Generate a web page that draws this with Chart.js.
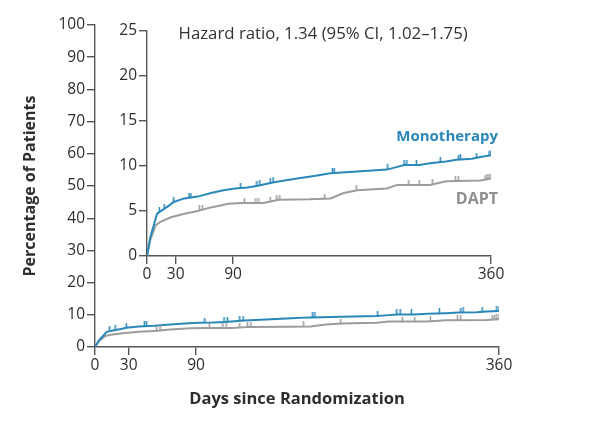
<!DOCTYPE html>
<html>
<head>
<meta charset="utf-8">
<script src="https://cdn.jsdelivr.net/npm/chart.js@4.4.1/dist/chart.umd.min.js"></script>
<style>
  html, body { margin: 0; padding: 0; background: #fff; }
  #wrap { position: relative; width: 600px; height: 421px; }
  #wrap canvas { position: absolute; left: 0; top: 0; }
</style>
</head>
<body>
<div id="wrap">
  <canvas id="mainChart" width="600" height="421"></canvas>
  <canvas id="insetChart" width="600" height="421"></canvas>
</div>
<script>
// cumulative incidence (%)
var daysMono = [0, 2, 3.5, 6.5, 10.5, 16, 23, 28, 39, 53, 67, 80, 92, 105, 116, 133, 157, 175, 192, 220, 251, 262, 269, 285, 296, 313, 324, 340, 349, 360];
var mono     = [0, 1.2, 2.1, 3.2, 4.7, 5.1, 5.6, 6.0, 6.4, 6.6, 7.0, 7.3, 7.5, 7.6, 7.8, 8.2, 8.6, 8.9, 9.2, 9.4, 9.6, 9.9, 10.1, 10.1, 10.3, 10.5, 10.7, 10.8, 11.0, 11.2];

var daysDapt = [0, 2, 3.5, 9, 14, 25, 39, 53, 67, 85, 99, 122, 138, 170, 192, 206, 220, 251, 262, 296, 313, 349, 360];
var dapt     = [0, 1.0, 1.8, 3.4, 3.8, 4.3, 4.7, 5.0, 5.4, 5.8, 5.9, 5.9, 6.25, 6.3, 6.4, 7.0, 7.3, 7.5, 7.9, 7.9, 8.3, 8.4, 8.6];

// censoring marks (days)
var censorMono = [13, 18, 28, 44, 46, 98, 115, 118, 129, 132, 194, 196, 252, 269, 272, 282, 307, 326, 328, 345, 358, 360];
var censorDapt = [55, 58, 102, 114, 117, 129, 136, 139, 186, 219, 274, 285, 299, 323, 326, 354, 356, 358, 360];

var xTicks = [0, 30, 90, 360];
var mainYTicks = [0, 10, 20, 30, 40, 50, 60, 70, 80, 90, 100];
var insetYTicks = [0, 5, 10, 15, 20, 25];

var blue = '#2a88b8';
var grey = '#9c9c9c';
var axisColor = '#555';
var textColor = '#2e2e2e';
var fontFamily = '"Open Sans", "Noto Sans", sans-serif';

function toPoints(xs, ys) {
    return xs.map(function (x, i) { return { x: x, y: ys[i] }; });
}

function valueAt(xs, ys, d) {
    for (var i = 1; i < xs.length; i++) {
        if (d <= xs[i]) {
            var t = (d - xs[i - 1]) / (xs[i] - xs[i - 1]);
            return ys[i - 1] + t * (ys[i] - ys[i - 1]);
        }
    }
    return ys[ys.length - 1];
}

// small upward tick used as censor mark
function tickImage(color) {
    var c = document.createElement('canvas');
    c.width = 3;
    c.height = 10;
    var g = c.getContext('2d');
    g.fillStyle = color;
    g.fillRect(0.7, 0, 1.5, 5);
    return c;
}

function datasets() {
    return [
        {
            label: 'Monotherapy',
            data: toPoints(daysMono, mono),
            borderColor: blue,
            borderWidth: 2,
            pointRadius: 0,
            tension: 0,
            order: 2
        },
        {
            label: 'DAPT',
            data: toPoints(daysDapt, dapt),
            borderColor: grey,
            borderWidth: 2,
            pointRadius: 0,
            tension: 0,
            order: 3
        },
        {
            label: 'Monotherapy censored',
            data: censorMono.map(function (d) { return { x: d, y: valueAt(daysMono, mono, d) }; }),
            showLine: false,
            pointStyle: tickImage(blue),
            pointRadius: 4,
            order: 0
        },
        {
            label: 'DAPT censored',
            data: censorDapt.map(function (d) { return { x: d, y: valueAt(daysDapt, dapt, d) }; }),
            showLine: false,
            pointStyle: tickImage(grey),
            pointRadius: 4,
            order: 1
        }
    ];
}

function axes(yTicks, yMax, yWidth, xHeight, xTitle, yTitle) {
    return {
        x: {
            type: 'linear',
            min: 0,
            max: 360,
            afterBuildTicks: function (s) { s.ticks = xTicks.map(function (v) { return { value: v }; }); },
            afterFit: function (s) { s.height = xHeight; },
            border: { color: axisColor, width: 1.4 },
            grid: { drawOnChartArea: false, color: axisColor, lineWidth: 1.4, tickLength: 8 },
            ticks: { color: textColor, font: { family: fontFamily, size: 15.5 }, padding: 1, maxRotation: 0 },
            title: xTitle
        },
        y: {
            min: 0,
            max: yMax,
            afterBuildTicks: function (s) { s.ticks = yTicks.map(function (v) { return { value: v }; }); },
            afterFit: function (s) { s.width = yWidth; },
            border: { color: axisColor, width: 1.4 },
            grid: { drawOnChartArea: false, color: axisColor, lineWidth: 1.4, tickLength: 8 },
            ticks: { color: textColor, font: { family: fontFamily, size: 15.5 }, padding: 2 },
            title: yTitle
        }
    };
}

var mainChart = new Chart(document.getElementById('mainChart'), {
    type: 'line',
    data: { datasets: datasets() },
    options: {
        responsive: false,
        animation: false,
        layout: { padding: { left: 12, right: 101, top: 25, bottom: 0 } },
        plugins: { legend: { display: false }, tooltip: { enabled: false } },
        scales: axes(mainYTicks, 100, 83, 74,
            { display: true, text: 'Days since Randomization', color: textColor,
              font: { family: fontFamily, size: 16.5, weight: 'bold' }, padding: { top: 0, bottom: 12 } },
            { display: true, text: 'Percentage of Patients', color: textColor,
              font: { family: fontFamily, size: 16, weight: 'bold' }, padding: { top: 9, bottom: 0 } })
    }
});

var insetLabels = {
    id: 'insetLabels',
    afterDraw: function (chart) {
        var ctx = chart.ctx;
        var xs = chart.scales.x, ys = chart.scales.y;
        ctx.save();
        ctx.textBaseline = 'middle';
        ctx.font = '16.8px ' + fontFamily;
        ctx.fillStyle = '#333';
        ctx.textAlign = 'left';
        ctx.fillText('Hazard ratio, 1.34 (95% CI, 1.02\u20131.75)', xs.getPixelForValue(33), ys.getPixelForValue(24.6));
        ctx.font = 'bold 15px ' + fontFamily;
        ctx.textAlign = 'right';
        ctx.fillStyle = blue;
        ctx.fillText('Monotherapy', xs.getPixelForValue(360) + 7, ys.getPixelForValue(13.3));
        ctx.fillStyle = '#8f8f8f';
        ctx.font = 'bold 16px ' + fontFamily;
        ctx.fillText('DAPT', xs.getPixelForValue(360) + 7, ys.getPixelForValue(6.3));
        ctx.restore();
    }
};

var insetChart = new Chart(document.getElementById('insetChart'), {
    type: 'line',
    data: { datasets: datasets() },
    options: {
        responsive: false,
        animation: false,
        layout: { padding: { left: 100, right: 109, top: 31, bottom: 135 } },
        plugins: { legend: { display: false }, tooltip: { enabled: false } },
        scales: axes(insetYTicks, 25, 47, 30, { display: false }, { display: false })
    },
    plugins: [insetLabels]
});
</script>
</body>
</html>
